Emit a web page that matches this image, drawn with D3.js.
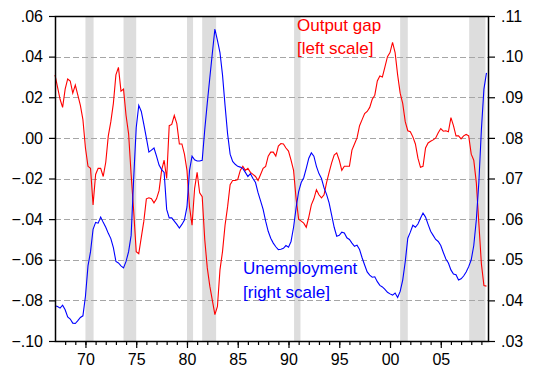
<!DOCTYPE html>
<html>
<head>
<meta charset="utf-8">
<script src="https://cdn.jsdelivr.net/npm/d3@7"></script>
<style>
  body { margin: 0; background: #fff; }
  text { font-family: "Liberation Sans", Arial, sans-serif; }
</style>
</head>
<body>
<div id="chart"></div>
<script>
// quarterly, 1967Q1 .. 2009Q3
var startYear = 1967;

var outputGap = [
  0.031, 0.025, 0.019, 0.015, 0.024, 0.029, 0.028, 0.022, 0.026, 0.021, 0.016, 0.009,
  -0.005, -0.014, -0.015, -0.033, -0.018, -0.015, -0.015, -0.019, -0.012, 0.001, 0.008, 0.017,
  0.031, 0.0347, 0.023, 0.024, 0.011, 0.002, -0.018, -0.036, -0.056, -0.057, -0.049, -0.041,
  -0.030, -0.0295, -0.030, -0.032, -0.030, -0.026, -0.016, -0.011,
  -0.020, 0.006, 0.0066, 0.011, 0.007, -0.003, -0.003, -0.008,
  -0.016, -0.034, -0.043, -0.025, -0.017, -0.027, -0.029, -0.050,
  -0.064, -0.073, -0.080, -0.087, -0.083, -0.065, -0.056, -0.043,
  -0.034, -0.023, -0.021, -0.021, -0.0205, -0.016, -0.014, -0.016,
  -0.015, -0.017, -0.018, -0.019, -0.021, -0.018, -0.015, -0.014,
  -0.009, -0.007, -0.007, -0.009, -0.004, -0.0028, -0.003, -0.005,
  -0.0065, -0.011, -0.016, -0.030, -0.040, -0.041, -0.042, -0.044,
  -0.039, -0.033, -0.030, -0.0255, -0.028, -0.0295, -0.028, -0.022,
  -0.017, -0.0123, -0.0085, -0.0074, -0.011, -0.016, -0.014, -0.014,
  -0.014, -0.006, -0.003, 0.000, 0.006, 0.009, 0.012, 0.013,
  0.015, 0.019, 0.021, 0.028, 0.0305, 0.030, 0.035, 0.040,
  0.042, 0.047, 0.042, 0.031, 0.022, 0.017, 0.008, 0.0035,
  0.003, 0.0005, -0.003, -0.010, -0.0145, -0.014, -0.005, -0.0025,
  -0.0017, -0.001, 0.000, 0.0025, 0.0046, 0.0033, 0.0035, 0.003,
  0.010, 0.006, 0.001, 0.001, -0.0005, 0.001, 0.0017, 0.001,
  -0.008, -0.011, -0.022, -0.042, -0.062, -0.0727, -0.073
];

var unemployment = [
  0.0387, 0.0385, 0.0381, 0.0388, 0.0377, 0.0359, 0.0354, 0.0344, 0.0343, 0.0350, 0.0358, 0.0362,
  0.0410, 0.0485, 0.0520, 0.0575, 0.0592, 0.0590, 0.0605, 0.0592, 0.0580, 0.0565, 0.0552, 0.0530,
  0.0496, 0.0492, 0.0485, 0.0480, 0.0496, 0.0520, 0.0560, 0.0700, 0.0825, 0.0880, 0.0865, 0.0833,
  0.0800, 0.0765, 0.0770, 0.0775, 0.0755, 0.0733, 0.0722, 0.0715,
  0.0624, 0.0603, 0.0603, 0.0595, 0.0587, 0.0578, 0.0587, 0.0598,
  0.0630, 0.0720, 0.0755, 0.0746, 0.0743, 0.0743, 0.0745, 0.0820,
  0.0886, 0.0948, 0.1009, 0.1068, 0.1040, 0.1010, 0.0955, 0.0880,
  0.0810, 0.0760, 0.0742, 0.0735, 0.0730, 0.0728, 0.0725, 0.0715,
  0.0705, 0.0712, 0.0700, 0.0690, 0.0665, 0.0645, 0.0624, 0.0595,
  0.0570, 0.0553, 0.0541, 0.0532, 0.0525, 0.0526, 0.0528, 0.0535,
  0.0531, 0.0545, 0.0580, 0.0628, 0.0668, 0.0690, 0.0702, 0.0725,
  0.0750, 0.0763, 0.0755, 0.0730, 0.0712, 0.0700, 0.0677, 0.0661,
  0.0640, 0.0610, 0.0580, 0.0558, 0.0560, 0.0568, 0.0566, 0.0554,
  0.0550, 0.0541, 0.0533, 0.0536, 0.0525, 0.0505, 0.0487, 0.0470,
  0.0462, 0.0457, 0.0458, 0.0446, 0.0437, 0.0433, 0.0427, 0.0420,
  0.0416, 0.0413, 0.0418, 0.0407, 0.0422, 0.0450, 0.0495, 0.0553,
  0.0568, 0.0585, 0.0580, 0.0588, 0.0602, 0.0615, 0.0605, 0.0587,
  0.0570, 0.0560, 0.0550, 0.0545, 0.0535, 0.0518, 0.0502, 0.0492,
  0.0475, 0.0465, 0.0463, 0.0450, 0.0453, 0.0460, 0.0470, 0.0483,
  0.0500, 0.0535, 0.0598, 0.0690, 0.0820, 0.0920, 0.0960
];

var recessions = [
  [1970.0, 1970.8], [1973.75, 1975.0], [1980.0, 1980.6],
  [1981.5, 1982.87], [1990.55, 1991.18], [2001.0, 2001.75], [2007.8, 2009.4]
];

var leftTicks = [-0.10, -0.08, -0.06, -0.04, -0.02, 0.00, 0.02, 0.04, 0.06];
var rightTicks = [0.03, 0.04, 0.05, 0.06, 0.07, 0.08, 0.09, 0.10, 0.11];
var majorYears = [1970, 1975, 1980, 1985, 1990, 1995, 2000, 2005];
var minorYears = d3.range(1968, 2010);

var W = 547, H = 380;
var plotL = 55, plotR = 489, plotT = 16, plotB = 341;

var svg = d3.select("#chart").append("svg").attr("width", W).attr("height", H);

var x = d3.scaleLinear().domain([1967, 2009.75]).range([plotL, plotR]);
var yL = d3.scaleLinear().domain([-0.10, 0.06]).range([plotB, plotT]);
var yR = d3.scaleLinear().domain([0.03, 0.11]).range([plotB, plotT]);

function quarterTime(i) { return startYear + i / 4; }

function fmt(v) {
  return d3.format(".2f")(v).replace("0.", ".");
}

// recession bars
svg.selectAll("rect.rec").data(recessions).enter().append("rect")
  .attr("class", "rec")
  .attr("x", function(d){ return x(d[0]); })
  .attr("width", function(d){ return x(d[1]) - x(d[0]); })
  .attr("y", plotT)
  .attr("height", plotB - plotT)
  .attr("fill", "#dddddd");

// gridlines
svg.selectAll("line.grid").data(leftTicks.slice(1, -1)).enter().append("line")
  .attr("class", "grid")
  .attr("x1", plotL).attr("x2", plotR)
  .attr("y1", function(d){ return Math.round(yL(d)) + 0.5; })
  .attr("y2", function(d){ return Math.round(yL(d)) + 0.5; })
  .attr("stroke", "#a6a6a6")
  .attr("stroke-width", 1)
  .attr("stroke-dasharray", "6,3");

// series
var lineGap = d3.line()
  .x(function(d, i){ return x(quarterTime(i)); })
  .y(function(d){ return yL(d); });
var lineU = d3.line()
  .x(function(d, i){ return x(quarterTime(i)); })
  .y(function(d){ return yR(d); });

svg.append("path").datum(outputGap)
  .attr("d", lineGap).attr("fill", "none")
  .attr("stroke", "#ff0000").attr("stroke-width", 1.1);

svg.append("path").datum(unemployment)
  .attr("d", lineU).attr("fill", "none")
  .attr("stroke", "#0000ff").attr("stroke-width", 1.1);

// frame
svg.append("rect")
  .attr("x", plotL + 0.5).attr("y", plotT + 0.5)
  .attr("width", plotR - plotL - 1).attr("height", plotB - plotT)
  .attr("fill", "none").attr("stroke", "#000").attr("stroke-width", 1.5);

// axes
var axL = svg.append("g").attr("transform", "translate(" + plotL + ",0)")
  .call(d3.axisLeft(yL).tickValues(leftTicks).tickFormat(fmt).tickSize(6).tickSizeOuter(0).tickPadding(6));
var axR = svg.append("g").attr("transform", "translate(" + plotR + ",0)")
  .call(d3.axisRight(yR).tickValues(rightTicks).tickFormat(fmt).tickSize(6).tickSizeOuter(0).tickPadding(6));
var axMinor = svg.append("g").attr("transform", "translate(0," + plotB + ")")
  .call(d3.axisBottom(x).tickValues(minorYears).tickFormat("").tickSize(4).tickSizeOuter(0));
var axMajor = svg.append("g").attr("transform", "translate(0," + plotB + ")")
  .call(d3.axisBottom(x).tickValues(majorYears)
    .tickFormat(function(d){ return d3.format("02d")(d % 100); })
    .tickSize(7).tickSizeOuter(0).tickPadding(6));

[axL, axR, axMinor, axMajor].forEach(function(g){
  g.select(".domain").remove();
  g.selectAll("line").attr("stroke", "#000").attr("stroke-width", 1.2);
  g.selectAll("text").attr("font-size", "16px").attr("fill", "#000")
    .attr("font-family", "'Liberation Sans', Arial, sans-serif");
});

// series labels
var gapLabel = svg.append("text").attr("x", 297).attr("y", 31)
  .attr("fill", "#ff0000").attr("font-size", "17px");
gapLabel.append("tspan").attr("x", 297).text("Output gap");
gapLabel.append("tspan").attr("x", 297).attr("dy", 23).text("[left scale]");

var uLabel = svg.append("text").attr("x", 243).attr("y", 274)
  .attr("fill", "#0000ff").attr("font-size", "17px");
uLabel.append("tspan").attr("x", 243).text("Unemployment");
uLabel.append("tspan").attr("x", 243).attr("dy", 24).text("[right scale]");
</script>
</body>
</html>
